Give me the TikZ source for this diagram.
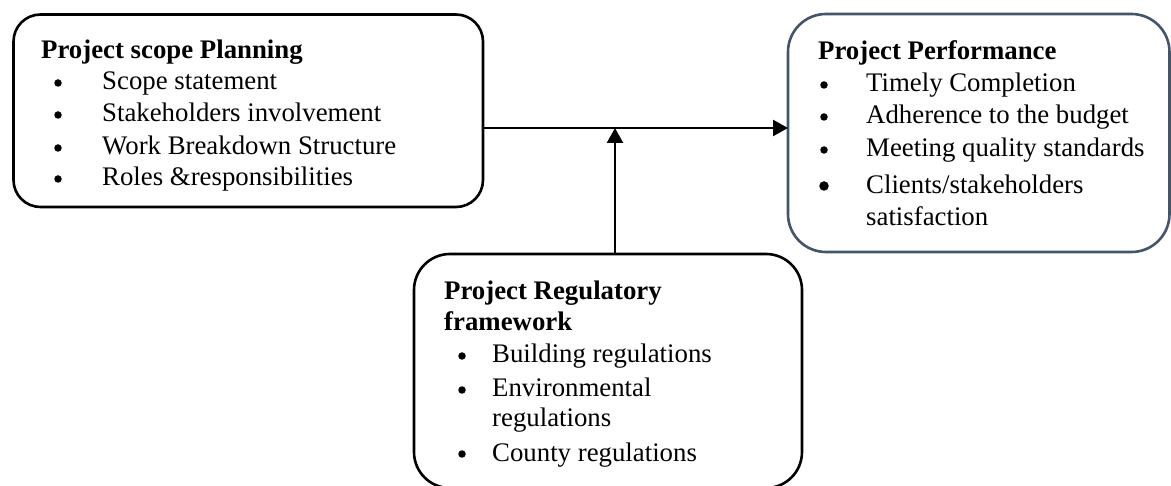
\documentclass[tikz,border=0pt]{standalone}
\usepackage{fontspec}
\setmainfont{Liberation Serif}
\usetikzlibrary{arrows.meta}
\definecolor{slateedge}{RGB}{68,84,106}
\tikzset{
  box/.style={draw=black, line width=2.6pt, rounded corners=27pt, inner sep=0pt, outer sep=0pt},
  txt/.style={anchor=base west, inner sep=0pt, font=\fontsize{26.8}{32}\selectfont},
  ttl/.style={txt, font=\fontsize{26.8}{32}\selectfont\bfseries},
  dot/.style={circle, fill=black, inner sep=0pt, minimum size=7.5pt},
  link/.style={line width=2.4pt, -{Triangle[length=15pt,width=16pt]}}
}
\begin{document}
\begin{tikzpicture}[x=1pt,y=-1pt]
\useasboundingbox (0,0) rectangle (1171,486);
% boxes
\node[box, minimum width=469.5pt, minimum height=192.5pt] (scope) at (248.25,110.75) {};
\node[box, draw=slateedge, rounded corners=38pt, minimum width=381.5pt, minimum height=238pt] (perf) at (978.75,133) {};
\node[box, rounded corners=36pt, minimum width=388pt, minimum height=234pt] (reg) at (608,371) {};
% left box text
\node[ttl] (t1) at (41,59) {Project scope Planning};
\node[dot] (b11) at (58,83) {};
\node[txt] (s11) at (102,90) {Scope statement};
\node[dot] (b12) at (58,115) {};
\node[txt] (s12) at (102,122) {Stakeholders involvement};
\node[dot] (b13) at (58,148) {};
\node[txt] (s13) at (102,155) {Work Breakdown Structure};
\node[dot] (b14) at (58,179) {};
\node[txt] (s14) at (102,186) {Roles \&responsibilities};
% right box text
\node[ttl] (t2) at (818,60) {Project Performance};
\node[dot] (b21) at (824,85) {};
\node[txt] (s21) at (866,92) {Timely Completion};
\node[dot] (b22) at (824,117) {};
\node[txt] (s22) at (866,124) {Adherence to the budget};
\node[dot] (b23) at (824,150) {};
\node[txt] (s23) at (866,157) {Meeting quality standards};
\node[dot, minimum size=9.5pt] (b24) at (824,186) {};
\node[txt] (s24) at (866,194) {Clients/stakeholders};
\node[txt] (s25) at (866,226) {satisfaction};
% bottom box text
\node[ttl] (t3) at (444,300) {Project Regulatory};
\node[ttl] (t4) at (444,331) {framework};
\node[dot] (b31) at (462,356) {};
\node[txt] (s31) at (492,363) {Building regulations};
\node[dot] (b32) at (462,390) {};
\node[txt] (s32) at (492,397) {Environmental};
\node[txt] (s33) at (492,427) {regulations};
\node[dot] (b34) at (462,454) {};
\node[txt] (s34) at (492,461) {County regulations};
% connectors
\coordinate (j) at (615,128);
\draw[link] (scope.east |- j) -- (perf.west |- j);
\draw[link] (reg.north -| j) -- (j);
\end{tikzpicture}
\end{document}
